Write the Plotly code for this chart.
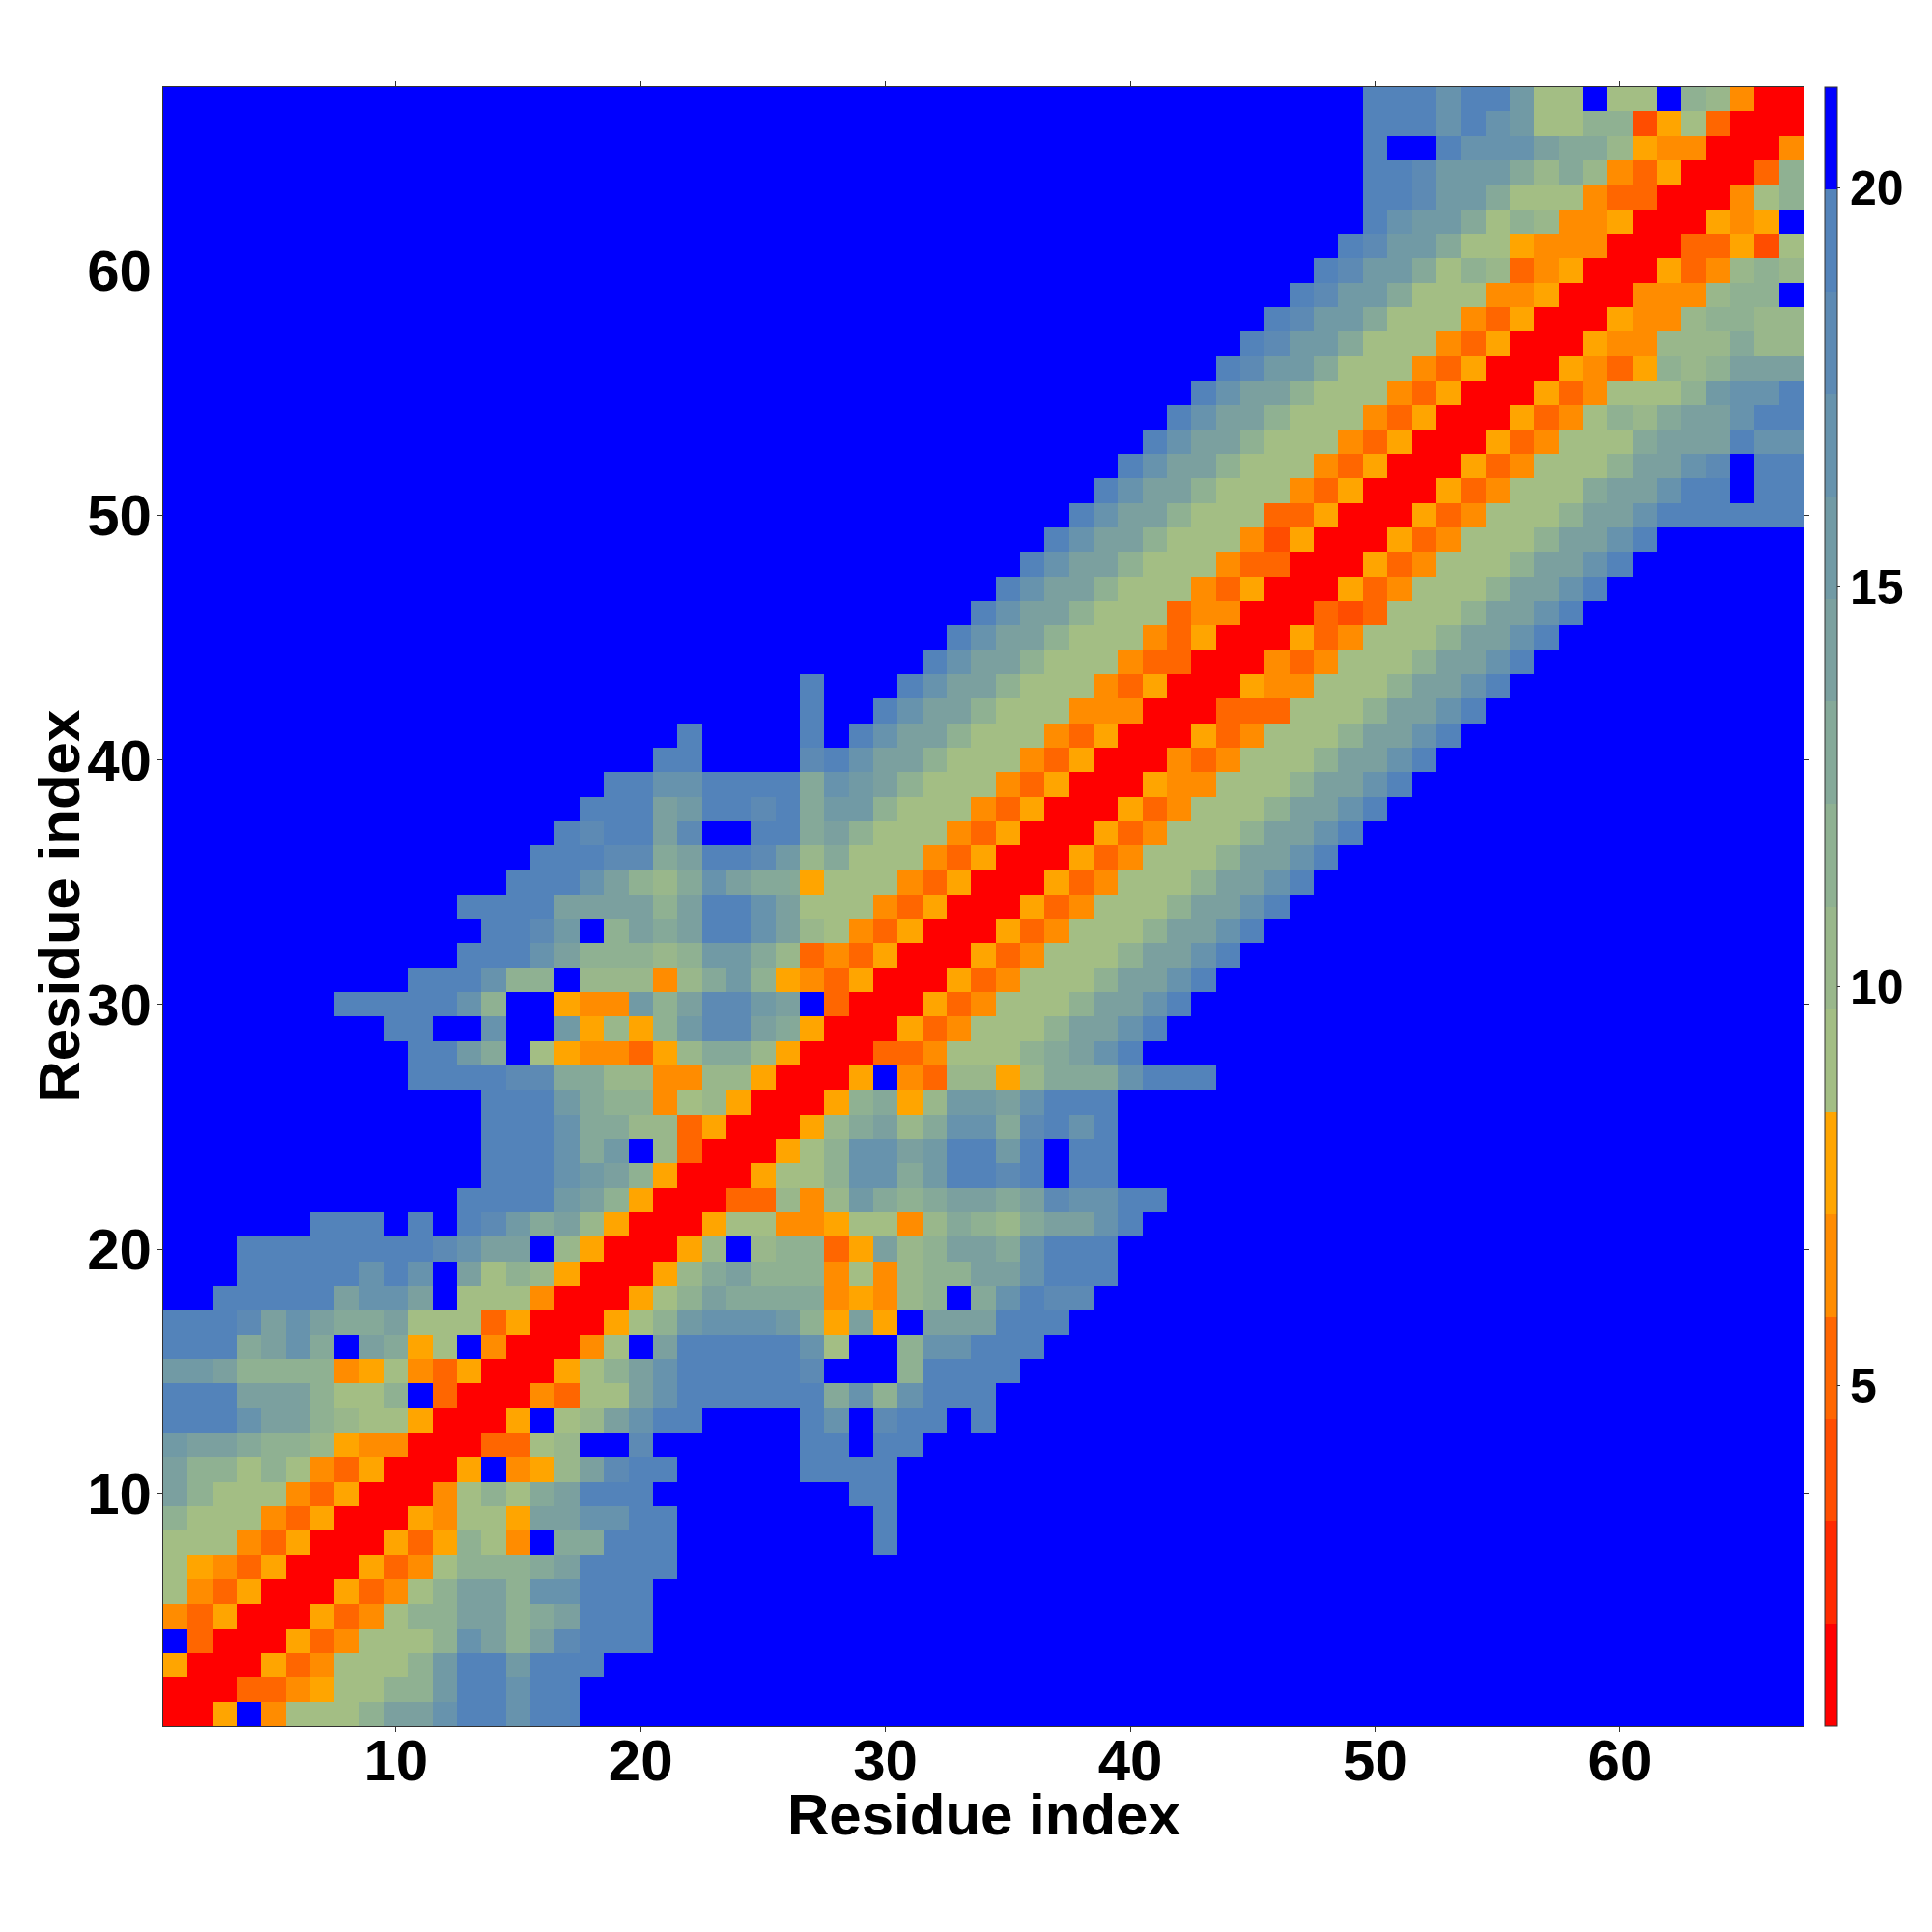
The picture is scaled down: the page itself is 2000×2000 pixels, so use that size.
import plotly.graph_objects as go

# Each row (bottom row first) holds one hex digit per residue column: the colour-band index (0-15).
# Rows shorter than 67 are padded with band f (no contact, blue).
rows = [
    "005f46668aaceecee",
    "00033456688beecee",
    "500053466" + "68beebeee",
    "f30005346668ca8adeee",
    "435000534688aa89aeee",
    "643500053468aa8cceee",
    "654350005346888" + "9aeeee",
    "666435000535864f99eee" + "ffffffff" + "e",
    "866643500054665aaccee" + "ffffffff" + "e",
    "a866643500046869aeee" + "ffffffff" + "ee",
    "a886864350005f457adee" + "fffff" + "eeee",
    "baa98875440003367ffd" + "ffffff" + "eefee",
    "eeecaa876650005f67acee" + "ffff" + "ecfdeefe",
    "eeeaaa8668f30004366ac" + "eeeeee" + "9c8ceee",
    "bba8888456435" + "000" + "568ac" + "eeeee" + "dfff8eeee",
    "eee9ac9fa956f4" + "000" + "46fa" + "eeeee" + "c6ff8cceee",
    "eeedaca99a66635" + "000" + "568bcccb85a5faaaeee",
    "ffeeeeeaccaf6664" + "000" + "568a999945478f9cedd",
    "fffeeeeececfa6875" + "000" + "579a888464788aaceee",
    "fffeeeeeeeedcaaf75" + "000" + "57f78835a78aa9ceee",
    "f" * 6 + "eeefefedb9a75" + "000" + "5664456647987" + "9aace",
    "f" * 12 + "eeeeba85" + "000" + "337" + "47b989aa9adccee",
    "f" * 13 + "eeecba85" + "000" + "5668cc9beedefee",
    "f" * 13 + "eeec9bf73" + "000" + "568ccabeebefee",
    "f" * 13 + "eeec997735" + "000" + "579a79cc9dece",
    "f" * 13 + "eeeb988467" + "5000" + "58957bbaceee",
    "f" * 10 + "eeeedd99774477" + "5000" + "5f43775" + "7999ceee",
    "f" * 10 + "eeb9f65443" + "57997" + "5000" + "334666" + "89ace",
    "f" * 9 + "eeffcffb5758bdda95" + "000" + "534666" + "8aace",
    "f" * 7 + "eeeeec8ff544b8addbaf3" + "000" + "534666" + "8aace",
    "f" * 10 + "eeec88f777479b8543" + "5000" + "534666" + "8aace",
    "f" * 12 + "eeeca888" + "78bb97343" + "5000" + "534666" + "8aace",
    "f" * 13 + "eedbf8a9aeeca7643" + "5000" + "534666" + "8aace",
    "f" * 12 + "eeeeaaaa8aeeca6664" + "35000" + "534666" + "8aace",
    "f" * 14 + "eeeca879ca995666" + "435000" + "534666" + "8aace",
    "f" * 15 + "eeedd9aeedb79666" + "435000" + "534666" + "8aace",
    "f" * 16 + "edeeadffee9a8666" + "435000" + "534666" + "8aace",
    "f" * 17 + "eeeabeede9bb8666" + "435000" + "534666" + "8aace",
    "f" * 18 + "eecceeee9cba8666" + "435000" + "544666" + "8aace",
    "f" * 20 + "eeffffdecaa8666" + "435000" + "434666" + "8aace",
    "f" * 21 + "effffefecaa8666" + "435000" + "534666" + "8aace",
    "f" * 26 + "effecaa8666" + "444000" + "333666" + "8aace",
    "f" * 26 + "efffecaa8666" + "435000" + "544666" + "8aace",
    "f" * 31 + "ecaa8666" + "433000" + "434666" + "8aace",
    "f" * 32 + "ecaa8666" + "435000" + "534666" + "8aace",
    "f" * 33 + "ecaa8666" + "344000" + "323666" + "8aace",
    "f" * 34 + "ecaa8666" + "435000" + "534666" + "8aace",
    "f" * 35 + "ecaa8666" + "433000" + "534666" + "8aace",
    "f" * 36 + "ecaa8666" + "425000" + "534666" + "8aace",
    "f" * 37 + "ecaa8666" + "335000" + "534666" + "8aaceeeeee",
    "f" * 38 + "ecaa8666" + "435000" + "534666" + "9aaceefee",
    "f" * 39 + "ecaa8666" + "435000" + "534666" + "8aacdfee",
    "f" * 40 + "ecaa8666" + "435000" + "534666" + "9aaaecc",
    "f" * 41 + "ecaa8666" + "435000" + "534" + "68" + "79aacee",
    "f" * 42 + "ecaa8666" + "435000" + "534666" + "8bcce",
    "f" * 43 + "edbb9666" + "435000" + "5435878aaa",
    "f" * 44 + "edbb9666" + "435000" + "544777977",
    "f" * 45 + "edbb9666" + "435000" + "54478877",
    "f" * 46 + "edbb9666" + "445000" + "444788f",
    "f" * 47 + "edbb968734" + "5000" + "534787",
    "f" * 48 + "edbb9665" + "44" + "4000" + "33526",
    "f" * 49 + "ecbb968744" + "5000" + "545f",
    "f" * 49 + "eedbb96664" + "33000" + "468",
    "f" * 49 + "eedbbb9797" + "435000" + "38",
    "f" * 49 + "effeccca99" + "7544000" + "4",
    "f" * 49 + "eeececb6688" + "2563000",
    "f" * 49 + "eeeceeb66f66f" + "87400",
]

xtick_vals = [10, 20, 30, 40, 50, 60]
cbar_ticks = [5, 10, 15, 20]
axis_title = "Residue index"
z_low = 0.74
z_high = 21.26
band_colors = [
    "#FF0000", "#FF2A00", "#FF4D00", "#FF6600", "#FF8C00", "#FFA500",
    "#A3BE84", "#99B78B", "#8FB192", "#85A999", "#7BA09F", "#719AA5",
    "#6793AD", "#5D8AB4", "#5383BA", "#0000FF",
]

n = 67
band = (z_high - z_low) / len(band_colors)
z = []
for row in rows:
    full = row.ljust(n, "f")
    assert len(full) == n, (row, len(full))
    z.append([z_low + (int(ch, 16) + 0.5) * band for ch in full])

scale = []
for i, c in enumerate(band_colors):
    scale.append([i / len(band_colors), c])
    scale.append([(i + 1) / len(band_colors), c])

FONT = "Liberation Sans"
title_font = dict(family=FONT, size=60, color="black", weight=700)
fig = go.Figure(go.Heatmap(
    z=z,
    x=list(range(1, n + 1)),
    y=list(range(1, n + 1)),
    zmin=z_low, zmax=z_high,
    colorscale=scale,
    colorbar=dict(
        x=1.013, xanchor="left", xpad=0, ypad=0, y=0.5, yanchor="middle",
        len=1, lenmode="fraction", thickness=13, thicknessmode="pixels",
        outlinecolor="#333333", outlinewidth=1,
        tickvals=cbar_ticks, ticks="outside", ticklen=3, tickcolor="#333333", tickwidth=1,
        tickfont=dict(family=FONT, size=50, color="black", weight=700),
    ),
))
axis = dict(
    range=[0.5, 67.5], tickvals=xtick_vals, ticks="outside", ticklen=5, tickwidth=1,
    tickcolor="#333333", showline=True, linecolor="#333333", linewidth=1, mirror="allticks",
    showgrid=False, zeroline=False,
    tickfont=dict(family=FONT, size=60, color="black", weight=700),
)
fig.update_xaxes(**axis, ticklabelstandoff=-22)
fig.update_yaxes(**axis, ticklabelstandoff=-6)
fig.add_annotation(text=axis_title, xref="paper", yref="paper", x=0.5, y=-0.0542,
                   xanchor="center", yanchor="middle", showarrow=False, font=title_font)
fig.add_annotation(text=axis_title, xref="paper", yref="paper", x=-0.0636, y=0.5,
                   xanchor="center", yanchor="middle", showarrow=False, textangle=-90,
                   font=title_font)
fig.update_layout(
    width=1993, height=1993, autosize=False,
    margin=dict(l=161, r=134, t=82, b=214),
    paper_bgcolor="white", plot_bgcolor="white",
)
fig.write_html("out.html")
